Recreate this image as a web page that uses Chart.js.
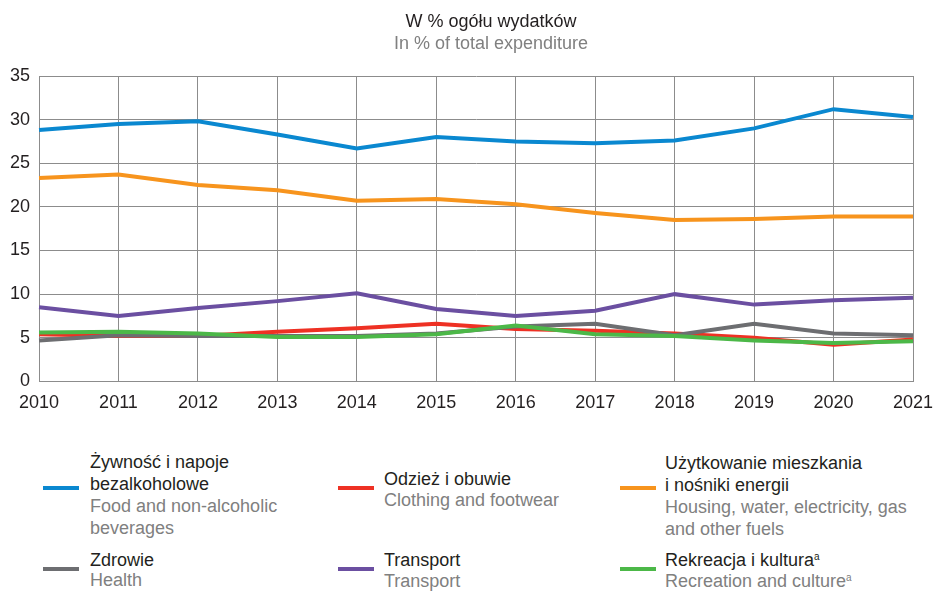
<!DOCTYPE html>
<html>
<head>
<meta charset="utf-8">
<script src="https://cdn.jsdelivr.net/npm/chart.js@4"></script>
<style>
  body { margin: 0; background: #fff; font-family: "Liberation Sans", Arial, sans-serif; }
  #wrap { position: relative; width: 934px; height: 591px; }
  #expChart { position: absolute; left: 0; top: 0; }
  .ttl { position: absolute; left: 0; width: 982px; text-align: center; font-size: 18px; line-height: 22px; }
  .leg { position: absolute; font-size: 18px; line-height: 22px; color: #231f20; white-space: nowrap; }
  .leg .en { color: #808080; }
  .leg sup { font-size: 10px; vertical-align: 6px; line-height: 0; }
  .sym { position: absolute; width: 36px; height: 4px; }
</style>
</head>
<body>
<div id="wrap">
  <canvas id="expChart" width="934" height="432"></canvas>
  <div class="ttl" style="top:10px;color:#231f20">W % ogółu wydatków</div>
  <div class="ttl" style="top:32px;color:#808080">In % of total expenditure</div>

  <div class="sym" style="left:43px;top:486px;background:#0a88d0"></div>
  <div class="leg" style="left:90px;top:451px">Żywność i napoje<br>bezalkoholowe<br><span class="en">Food and non-alcoholic<br>beverages</span></div>

  <div class="sym" style="left:338px;top:486px;background:#ee3124"></div>
  <div class="leg" style="left:384px;top:469px;line-height:21px">Odzież i obuwie<br><span class="en">Clothing and footwear</span></div>

  <div class="sym" style="left:620px;top:486px;background:#f7941d"></div>
  <div class="leg" style="left:665px;top:452px">Użytkowanie mieszkania<br>i nośniki energii<br><span class="en">Housing, water, electricity, gas<br>and other fuels</span></div>

  <div class="sym" style="left:43px;top:567px;background:#6d6e71"></div>
  <div class="leg" style="left:90px;top:550px;line-height:20px">Zdrowie<br><span class="en">Health</span></div>

  <div class="sym" style="left:338px;top:567px;background:#6b4fa1"></div>
  <div class="leg" style="left:384px;top:550px;line-height:21px">Transport<br><span class="en">Transport</span></div>

  <div class="sym" style="left:620px;top:567px;background:#4cb848"></div>
  <div class="leg" style="left:665px;top:550px;line-height:21px">Rekreacja i kultura<sup>a</sup><br><span class="en">Recreation and culture<sup>a</sup></span></div>
</div>
<script>
// values, % of total expenditure
const years = ['2010', '2011', '2012', '2013', '2014', '2015', '2016', '2017', '2018', '2019', '2020', '2021'];
const food = [28.8, 29.5, 29.8, 28.3, 26.7, 28.0, 27.5, 27.3, 27.6, 29.0, 31.2, 30.3];
const housing = [23.3, 23.7, 22.5, 21.9, 20.7, 20.9, 20.3, 19.3, 18.5, 18.6, 18.9, 18.9];
const clothing = [5.4, 5.2, 5.2, 5.7, 6.1, 6.6, 6.0, 5.8, 5.5, 5.0, 4.2, 4.8];
const health = [4.7, 5.3, 5.2, 5.2, 5.2, 5.5, 6.3, 6.6, 5.3, 6.6, 5.5, 5.3];
const transport = [8.5, 7.5, 8.4, 9.2, 10.1, 8.3, 7.5, 8.1, 10.0, 8.8, 9.3, 9.6];
const recreation = [5.6, 5.7, 5.5, 5.1, 5.1, 5.4, 6.4, 5.4, 5.2, 4.7, 4.4, 4.6];
const yTicks = [0, 5, 10, 15, 20, 25, 30, 35];

const gridColor = '#8c8c8c';

function line(data, color, order) {
    return { data: data, borderColor: color, borderWidth: 4, pointRadius: 0, tension: 0, fill: false, order: order };
}

document.addEventListener('DOMContentLoaded', () => {
    const ctx = document.getElementById('expChart').getContext('2d');
    new Chart(ctx, {
        type: 'line',
        data: {
            labels: years,
            datasets: [
                line(food, '#0a88d0', 6),
                line(housing, '#f7941d', 5),
                line(transport, '#6b4fa1', 4),
                line(clothing, '#ee3124', 3),
                line(health, '#6d6e71', 2),
                line(recreation, '#4cb848', 1)
            ]
        },
        options: {
            responsive: false,
            animation: false,
            layout: { padding: { top: 76, left: 1, right: 0, bottom: 7 } },
            plugins: { legend: { display: false }, tooltip: { enabled: false } },
            scales: {
                x: {
                    offset: false,
                    // tick padding would otherwise widen the right inset
                    afterFit: s => { s.paddingRight = 21; },
                    grid: { color: gridColor, drawTicks: false },
                    border: { color: gridColor },
                    ticks: { color: '#231f20', padding: 11, maxRotation: 0, font: { family: 'Liberation Sans', size: 18 } }
                },
                y: {
                    min: yTicks[0],
                    max: yTicks[yTicks.length - 1],
                    afterBuildTicks: axis => { axis.ticks = yTicks.map(v => ({ value: v })); },
                    grid: { color: gridColor, drawTicks: false },
                    border: { color: gridColor },
                    ticks: { color: '#231f20', padding: 9, font: { family: 'Liberation Sans', size: 18 } }
                }
            }
        }
    });
});
</script>
</body>
</html>
